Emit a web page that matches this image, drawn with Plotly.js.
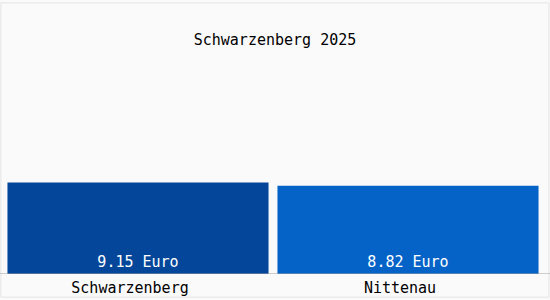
<!DOCTYPE html>
<html>
<head>
<meta charset="utf-8">
<script src="https://cdn.plot.ly/plotly-3.0.1.min.js"></script>
<style>
html,body{margin:0;padding:0;background:#fafafa;}
#chart{width:550px;height:300px;}
</style>
</head>
<body>
<div id="chart"></div>
<script>
const categories = ["Schwarzenberg", "Nittenau"];
const values = [9.15, 8.82];
const valueLabels = ["9.15 Euro", "8.82 Euro"];
const barColors = ["#04479a", "#0563c7"];
const chartTitle = "Schwarzenberg 2025";

const mono = "DejaVu Sans Mono, monospace";

const trace = {
  type: "bar",
  x: categories,
  y: values,
  text: valueLabels,
  textposition: "inside",
  insidetextanchor: "start",
  textangle: 0,
  textfont: {family: mono, size: 15, color: "#ffffff"},
  marker: {color: barColors, line: {width: 0}},
  hoverinfo: "none",
  cliponaxis: false
};

const layout = {
  width: 550,
  height: 300,
  margin: {l: 3, r: 7, t: 60, b: 26, pad: 0},
  paper_bgcolor: "#fafafa",
  plot_bgcolor: "#fafafa",
  title: {text: chartTitle, font: {family: mono, size: 15, color: "#000000"}, x: 0.5, xanchor: "center", y: 0.867, yanchor: "middle"},
  bargap: 0.033,
  showlegend: false,
  uniformtext: {mode: false},
  xaxis: {
    type: "category",
    showgrid: false,
    zeroline: false,
    showline: false,
    ticks: "",
    ticklabelstandoff: 3,
    ticklabelshift: -8,
    tickfont: {family: mono, size: 15, color: "#000000"},
    fixedrange: true
  },
  yaxis: {
    range: [0, 21.4],
    showgrid: false,
    zeroline: false,
    showline: false,
    showticklabels: false,
    ticks: "",
    fixedrange: true
  },
  shapes: [
    {type: "line", xref: "paper", yref: "y", x0: -0.006, x1: 1.013, y0: 0, y1: 0, line: {color: "#a0a0a0", width: 1}},
    {type: "rect", xref: "paper", yref: "paper", x0: -0.004, x1: 1.011, y0: -0.108, y1: 1.267, line: {color: "#e4e4e4", width: 1}, fillcolor: "rgba(0,0,0,0)", layer: "below"}
  ]
};

Plotly.newPlot("chart", [trace], layout, {displayModeBar: false, staticPlot: true});
</script>
</body>
</html>
